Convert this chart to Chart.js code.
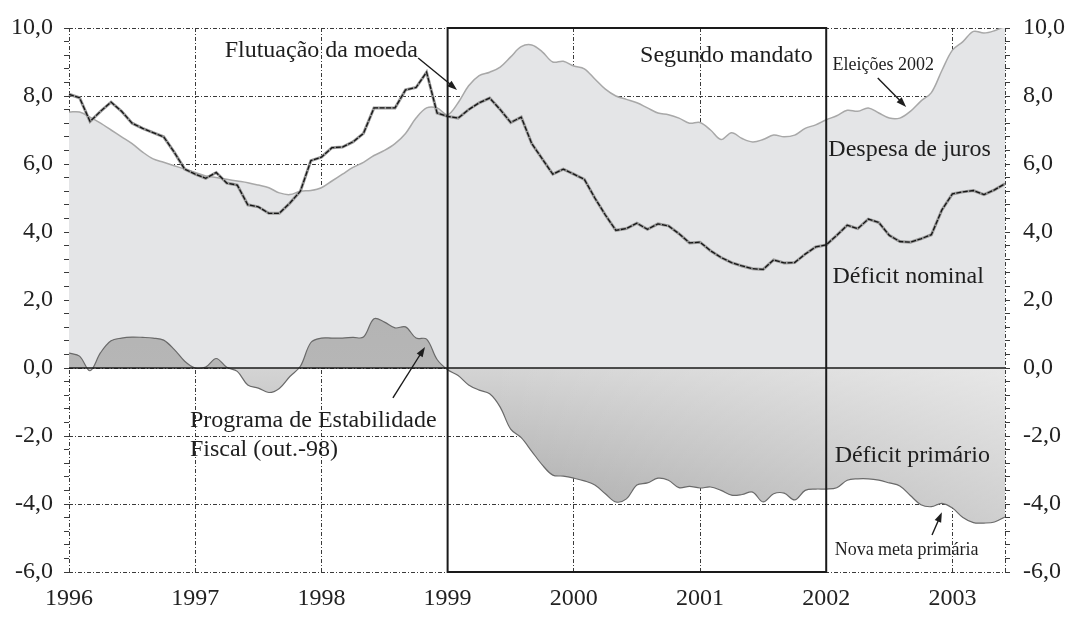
<!DOCTYPE html>
<html lang="pt">
<head>
<meta charset="utf-8">
<title>Déficit nominal, despesa de juros e déficit primário</title>
<script src="https://cdn.jsdelivr.net/npm/chart.js@4.4.1/dist/chart.umd.min.js"></script>
<style>
  html, body { margin: 0; padding: 0; background: #fff; }
  #wrap { width: 1065px; height: 617px; }
</style>
</head>
<body>
<div id="wrap"><canvas id="fiscal-chart" width="1065" height="617"></canvas></div>
<script>
// monthly series, jan/1996 - jun/2003 (% do PIB)
const years = [1996, 1997, 1998, 1999, 2000, 2001, 2002, 2003];
const lastMonth = 6; // jun/2003

const deficitNominal = [
  8.05, 7.95, 7.25, 7.55, 7.82, 7.55, 7.2, 7.05, 6.92, 6.8, 6.35, 5.85,
  5.7, 5.58, 5.75, 5.44, 5.38, 4.8, 4.74, 4.55, 4.55, 4.85, 5.2, 6.1,
  6.2, 6.48, 6.5, 6.65, 6.9, 7.65, 7.65, 7.65, 8.18, 8.25, 8.7, 7.5,
  7.4, 7.35, 7.6, 7.8, 7.94, 7.6, 7.22, 7.38, 6.6, 6.15, 5.7, 5.85,
  5.7, 5.55, 5.0, 4.5, 4.05, 4.1, 4.26, 4.08, 4.24, 4.18, 3.95, 3.68,
  3.7, 3.45, 3.25, 3.1, 3.0, 2.92, 2.9, 3.18, 3.09, 3.1, 3.35, 3.56,
  3.62, 3.9, 4.2, 4.1, 4.38, 4.28, 3.9, 3.72, 3.7, 3.8, 3.92, 4.65,
  5.12, 5.18, 5.22, 5.1, 5.24, 5.42
];

const despesaJuros = [
  7.53, 7.53, 7.38, 7.2, 7.0, 6.8, 6.6, 6.35, 6.15, 6.05, 5.95, 5.85,
  5.75, 5.65, 5.6, 5.55, 5.5, 5.45, 5.38, 5.3, 5.15, 5.1, 5.2, 5.22,
  5.3, 5.5, 5.7, 5.9, 6.05, 6.25, 6.4, 6.6, 6.9, 7.35, 7.65, 7.65,
  7.45, 7.8, 8.3, 8.6, 8.7, 8.85, 9.15, 9.45, 9.5, 9.3, 9.0, 9.02,
  8.88, 8.8, 8.5, 8.2, 8.0, 7.9, 7.8, 7.65, 7.5, 7.45, 7.35, 7.2,
  7.22, 7.0, 6.72, 6.92, 6.75, 6.65, 6.72, 6.85, 6.8, 6.85, 7.05, 7.15,
  7.3, 7.42, 7.58, 7.55, 7.65, 7.5, 7.35, 7.35, 7.55, 7.85, 8.1, 8.75,
  9.35, 9.6, 9.9, 9.85, 9.92, 10.05
];

const deficitPrimario = [
  0.44, 0.35, -0.08, 0.45, 0.8, 0.88, 0.91, 0.9, 0.88, 0.82, 0.55, 0.2,
  0.0, 0.03, 0.28, 0.02, -0.1, -0.5, -0.59, -0.72, -0.6, -0.25, 0.05, 0.75,
  0.88, 0.88, 0.88, 0.9, 0.91, 1.45, 1.35, 1.18, 1.21, 0.88, 0.85, 0.25,
  -0.05, -0.22, -0.5, -0.65, -0.76, -1.15, -1.8, -2.05, -2.45, -2.85, -3.15, -3.18,
  -3.24, -3.32, -3.44, -3.7, -3.94, -3.85, -3.44, -3.38, -3.24, -3.3, -3.52, -3.48,
  -3.53, -3.5, -3.6, -3.74, -3.72, -3.65, -3.94, -3.7, -3.68, -3.88, -3.6, -3.56,
  -3.56, -3.52, -3.3, -3.26, -3.26, -3.3, -3.38, -3.47, -3.75, -4.02, -4.08, -3.98,
  -4.12, -4.4, -4.55, -4.56, -4.53, -4.38
];

// month labels built from the year list
const months = [];
years.forEach(y => {
  const n = y === years[years.length - 1] ? lastMonth : 12;
  for (let m = 1; m <= n; m++) months.push(y + '-' + String(m).padStart(2, '0'));
});

// segundo mandato: jan/1999 - jan/2002 (month index)
const mandato = [36, 72];

// annotations (x = month index, y = value)
const notes = [
  { text: 'Flutuação da moeda', x: 14.8, y: 9.15, size: 24 },
  { text: 'Segundo mandato', x: 54.3, y: 9.0, size: 24 },
  { text: 'Eleições 2002', x: 72.6, y: 8.76, size: 18 },
  { text: 'Despesa de juros', x: 72.2, y: 6.24, size: 24 },
  { text: 'Déficit nominal', x: 72.6, y: 2.5, size: 24 },
  { text: 'Programa de Estabilidade', x: 11.5, y: -1.74, size: 24 },
  { text: 'Fiscal (out.-98)', x: 11.5, y: -2.59, size: 24 },
  { text: 'Déficit primário', x: 72.8, y: -2.76, size: 24 },
  { text: 'Nova meta primária', x: 72.8, y: -5.5, size: 18 }
];
const arrows = [
  { from: [33.2, 9.12], to: [36.9, 8.18] },
  { from: [76.9, 8.53], to: [79.6, 7.68] },
  { from: [30.8, -0.88], to: [33.85, 0.62] },
  { from: [82.06, -4.91], to: [83.0, -4.24] }
];

const FONT = "'Liberation Serif', 'DejaVu Serif', serif";
const GRID = '#3a3a3a';

const isMajor = v => Math.abs(v / 2 - Math.round(v / 2)) < 1e-6;
const fmt = v => v.toFixed(1).replace('.', ',');

// shaded fill for the primary balance: darker low and left, lighter up and right
let shadeCache = null;
const primarioFill = (c) => {
  const chart = c.chart;
  const area = chart.chartArea;
  if (!area) return '#b5b5b5';
  const x = chart.scales.x, y = chart.scales.y;
  const key = [area.left, area.top, area.right, area.bottom].join(',');
  if (shadeCache && shadeCache.key === key) return shadeCache.pattern;
  const off = document.createElement('canvas');
  off.width = chart.width;
  off.height = chart.height;
  const o = off.getContext('2d');
  const yTop = y.getPixelForValue(1.6), yZero = y.getPixelForValue(0), yLow = y.getPixelForValue(-4.6);
  const v = o.createLinearGradient(0, yTop, 0, yLow);
  const z = (yZero - yTop) / (yLow - yTop);
  v.addColorStop(0, '#b4b4b4');
  v.addColorStop(z, '#b6b6b6');
  v.addColorStop(z + 0.001, '#d4d4d4');
  v.addColorStop(z + (1 - z) * 0.5, '#bdbdbd');
  v.addColorStop(1, '#a7a7a7');
  o.fillStyle = v;
  o.fillRect(0, 0, off.width, off.height);
  const h = o.createLinearGradient(x.getPixelForValue(40), 0, area.right, 0);
  h.addColorStop(0, 'rgba(255,255,255,0)');
  h.addColorStop(1, 'rgba(255,255,255,0.45)');
  o.fillStyle = h;
  o.fillRect(0, yZero, off.width, off.height - yZero);
  const pattern = chart.ctx.createPattern(off, 'no-repeat');
  shadeCache = { key, pattern };
  return pattern;
};

const decorations = {
  id: 'decorations',
  afterDatasetsDraw(chart) {
    const { ctx, chartArea: a, scales: { x, y } } = chart;
    ctx.save();
    ctx.strokeStyle = '#1a1a1a';
    ctx.lineWidth = 1.6;
    const y0 = y.getPixelForValue(0);
    ctx.beginPath();
    ctx.moveTo(a.left, y0);
    ctx.lineTo(a.right, y0);
    ctx.stroke();

    const bx1 = x.getPixelForValue(mandato[0]);
    const bx2 = x.getPixelForValue(mandato[1]);
    ctx.lineWidth = 2;
    ctx.strokeRect(bx1, a.top, bx2 - bx1, a.bottom - a.top);

    ctx.fillStyle = '#1e1e1e';
    ctx.textAlign = 'left';
    ctx.textBaseline = 'alphabetic';
    notes.forEach(n => {
      ctx.font = n.size + 'px ' + FONT;
      ctx.fillText(n.text, x.getPixelForValue(n.x), y.getPixelForValue(n.y));
    });

    ctx.lineWidth = 1.4;
    arrows.forEach(ar => {
      const x1 = x.getPixelForValue(ar.from[0]), y1 = y.getPixelForValue(ar.from[1]);
      const x2 = x.getPixelForValue(ar.to[0]), y2 = y.getPixelForValue(ar.to[1]);
      const ang = Math.atan2(y2 - y1, x2 - x1);
      ctx.beginPath();
      ctx.moveTo(x1, y1);
      ctx.lineTo(x2 - 6 * Math.cos(ang), y2 - 6 * Math.sin(ang));
      ctx.stroke();
      ctx.beginPath();
      ctx.moveTo(x2, y2);
      ctx.lineTo(x2 - 10 * Math.cos(ang) + 3.5 * Math.sin(ang), y2 - 10 * Math.sin(ang) - 3.5 * Math.cos(ang));
      ctx.lineTo(x2 - 10 * Math.cos(ang) - 3.5 * Math.sin(ang), y2 - 10 * Math.sin(ang) + 3.5 * Math.cos(ang));
      ctx.closePath();
      ctx.fill();
    });
    ctx.restore();
  }
};

const yAxis = (position, width, pad) => ({
  type: 'linear',
  position: position,
  min: -6,
  max: 10,
  afterFit: s => { s.width = width; },
  border: { display: false, dash: [4, 2, 1, 2] },
  grid: {
    drawOnChartArea: position === 'left',
    color: c => isMajor(c.tick.value) ? GRID : 'rgba(0,0,0,0)',
    lineWidth: 1,
    tickLength: 5,
    tickColor: GRID,
    tickWidth: 1
  },
  ticks: {
    stepSize: 0.4,
    maxTicksLimit: 60,
    autoSkip: false,
    padding: pad,
    color: '#222',
    font: { family: FONT, size: 24 },
    callback: v => isMajor(v) ? fmt(v) : ''
  }
});

new Chart('fiscal-chart', {
  type: 'line',
  data: {
    labels: months,
    datasets: [
      {
        label: 'Déficit nominal',
        data: deficitNominal,
        borderColor: '#151515',
        borderWidth: 1.3,
        borderDash: [5, 1.5],
        pointRadius: 0,
        tension: 0,
        fill: false,
        order: 0
      },
      {
        label: 'Déficit nominal (contorno)',
        data: deficitNominal,
        borderColor: '#9a9a9a',
        borderWidth: 3,
        pointRadius: 0,
        tension: 0,
        fill: false,
        order: 1
      },
      {
        label: 'Déficit primário',
        data: deficitPrimario,
        borderColor: '#6a6a6a',
        borderWidth: 1.2,
        backgroundColor: primarioFill,
        pointRadius: 0,
        tension: 0.35,
        fill: 'origin',
        order: 2
      },
      {
        label: 'Despesa de juros',
        data: despesaJuros,
        borderColor: '#a8a8a8',
        borderWidth: 1.5,
        backgroundColor: '#e4e5e7',
        pointRadius: 0,
        tension: 0.35,
        fill: 'origin',
        order: 3
      }
    ]
  },
  options: {
    responsive: false,
    animation: false,
    layout: { padding: { top: 28, left: 0, right: 0, bottom: 0 } },
    plugins: {
      legend: { display: false },
      tooltip: { enabled: false }
    },
    scales: {
      x: {
        type: 'category',
        afterFit: s => { s.height = 45; },
        border: { display: false, dash: [4, 2, 1, 2] },
        grid: {
          drawTicks: false,
          lineWidth: 1,
          color: c => (c.index % 12 === 0 || c.index === months.length - 1) ? GRID : 'rgba(0,0,0,0)'
        },
        ticks: {
          autoSkip: false,
          maxRotation: 0,
          padding: 12,
          color: '#222',
          font: { family: FONT, size: 24 },
          callback: (v, i) => i % 12 === 0 ? months[i].slice(0, 4) : ''
        }
      },
      y: yAxis('left', 69, 11),
      y2: yAxis('right', 60, 13)
    }
  },
  plugins: [decorations]
});
</script>
</body>
</html>
